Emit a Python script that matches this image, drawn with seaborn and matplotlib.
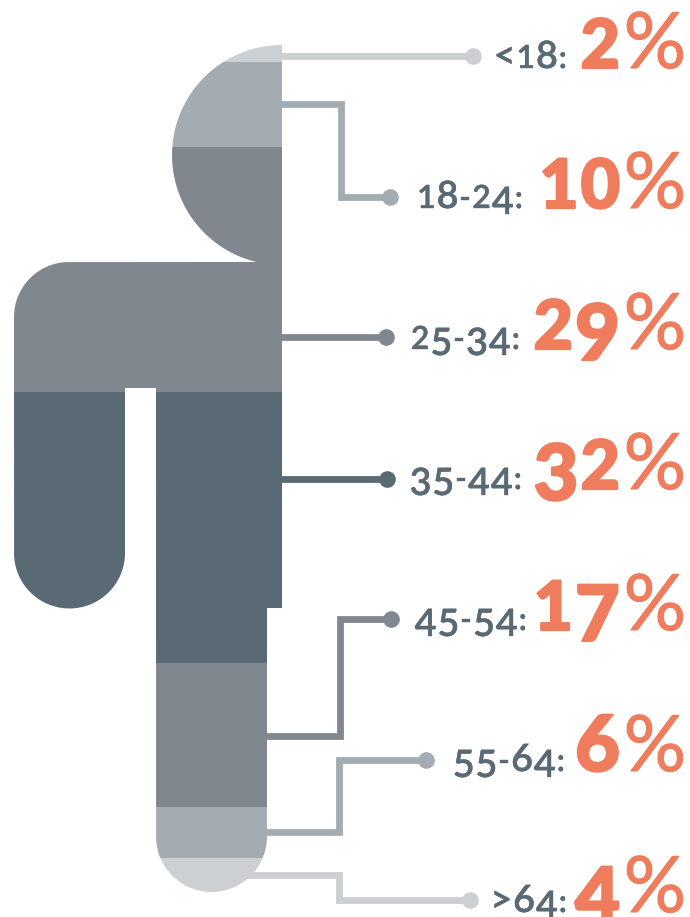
import numpy as np
import matplotlib
matplotlib.use("Agg")
import matplotlib.pyplot as plt
import matplotlib.patheffects as pe
from matplotlib.path import Path
from matplotlib.transforms import Affine2D
import seaborn as sns

# age bands, top of the body to the bottom
ages = ["<18", "18-24", "25-34", "35-44", "45-54", "55-64", ">64"]
shares = [2, 10, 29, 32, 17, 6, 4]
band_colors = ["#CCD0D3", "#A4ACB2", "#81878E", "#5A6A74", "#81878E", "#A4ACB2", "#CCD0D3"]

# text positions in pixels of the picture
baselines = [68, 208, 349, 489, 630, 771, 912]
label_right = [567, 523, 520, 522, 527, 565, 567]

W, H = 690, 917
TOP = 45
PX_PER_PCT = 8.47
ORANGE = "#EF7C5C"
SLATE = "#5A6A74"

sns.set_theme(style="white")
plt.rcParams["font.family"] = ["Lato", "DejaVu Sans"]

fig = plt.figure(figsize=(W / 100, H / 100), dpi=100)
ax = fig.add_axes([0, 0, 1, 1])
px = Affine2D().scale(1, -1).translate(0, H)


def arc(cx, cy, r, a0, a1):
    t = np.radians(np.linspace(a0, a1, 60))
    return np.column_stack([cx + r * np.cos(t), cy - r * np.sin(t)])


# person outline, counter clockwise from top of the head
a_end = np.degrees(np.arcsin(107 / 110))
outline = np.vstack([
    arc(282, 155, 110, 90, 180 + a_end),
    [[69, 262]],
    arc(69, 317, 55, 90, 180),
    arc(69.5, 553, 55.5, 180, 360),
    [[125, 388], [156, 388]],
    arc(211.5, 836.5, 55.5, 180, 360),
    [[267, 608], [282, 608], [282, 45]],
])
body = Path(outline)

bottom = 0
for age, v, c in zip(ages, shares, band_colors):
    sns.barplot(x=[148], y=[v], bottom=bottom, width=268, native_scale=True,
                color=c, saturation=1, ax=ax)
    bottom += v
for bar in ax.patches:
    bar.set_clip_path(body, px)
    bar.set_linewidth(0)

ax.set_xlim(0, W)
ax.set_ylim((H - TOP) / PX_PER_PCT, -TOP / PX_PER_PCT)
ax.axis("off")

# leader lines, pixels
leaders = [
    ([280, 473], [56, 56]),
    ([280, 341, 341, 390], [104, 104, 197, 197]),
    ([280, 386], [337, 337]),
    ([280, 387], [479, 479]),
    ([265, 340, 340, 391], [736, 736, 619, 619]),
    ([265, 339, 339, 426], [832, 832, 760, 760]),
    ([245, 339, 339, 470], [875, 875, 900, 900]),
]
for (xs, ys), c in zip(leaders, band_colors):
    ax.plot(xs, ys, color=c, lw=4.9, transform=px, solid_joinstyle="miter",
            solid_capstyle="butt", clip_on=False)
    ax.plot(xs[-1], ys[-1], "o", color=c, ms=12, mew=0, transform=px)

renderer = fig.canvas.get_renderer()
DROP = "34579"
TALL = "3456789<>"


def oldstyle(s, right, base, size, weight, color, gap, stroke, drop, tall=1.2):
    # figures set one by one, right to left, low ones small and the rest taller
    x = right
    for ch in reversed(s):
        fs = size * tall if ch in TALL else size
        y = base + drop if ch in DROP else base
        t = ax.text(x, y, ch, transform=px, ha="right", va="baseline", color=color,
                    fontsize=fs, fontweight=weight, clip_on=False,
                    path_effects=[pe.withStroke(linewidth=stroke, foreground=color)])
        x = t.get_window_extent(renderer).x0 - gap
    return x


for age, v, base, lr in zip(ages, shares, baselines, label_right):
    ax.text(686, base, "%", transform=px, ha="right", va="baseline", color=ORANGE,
            fontsize=56, fontweight="regular", clip_on=False,
            path_effects=[pe.withStroke(linewidth=0.8, foreground=ORANGE)])
    oldstyle(str(v), 620, base, 49, "black", ORANGE, 2, 1.6, 11, tall=1.14)
    oldstyle(age + ":", lr, base, 23, "semibold", SLATE, 1, 0.3, 6, tall=1.18)

fig.savefig("out.png", dpi=100)
